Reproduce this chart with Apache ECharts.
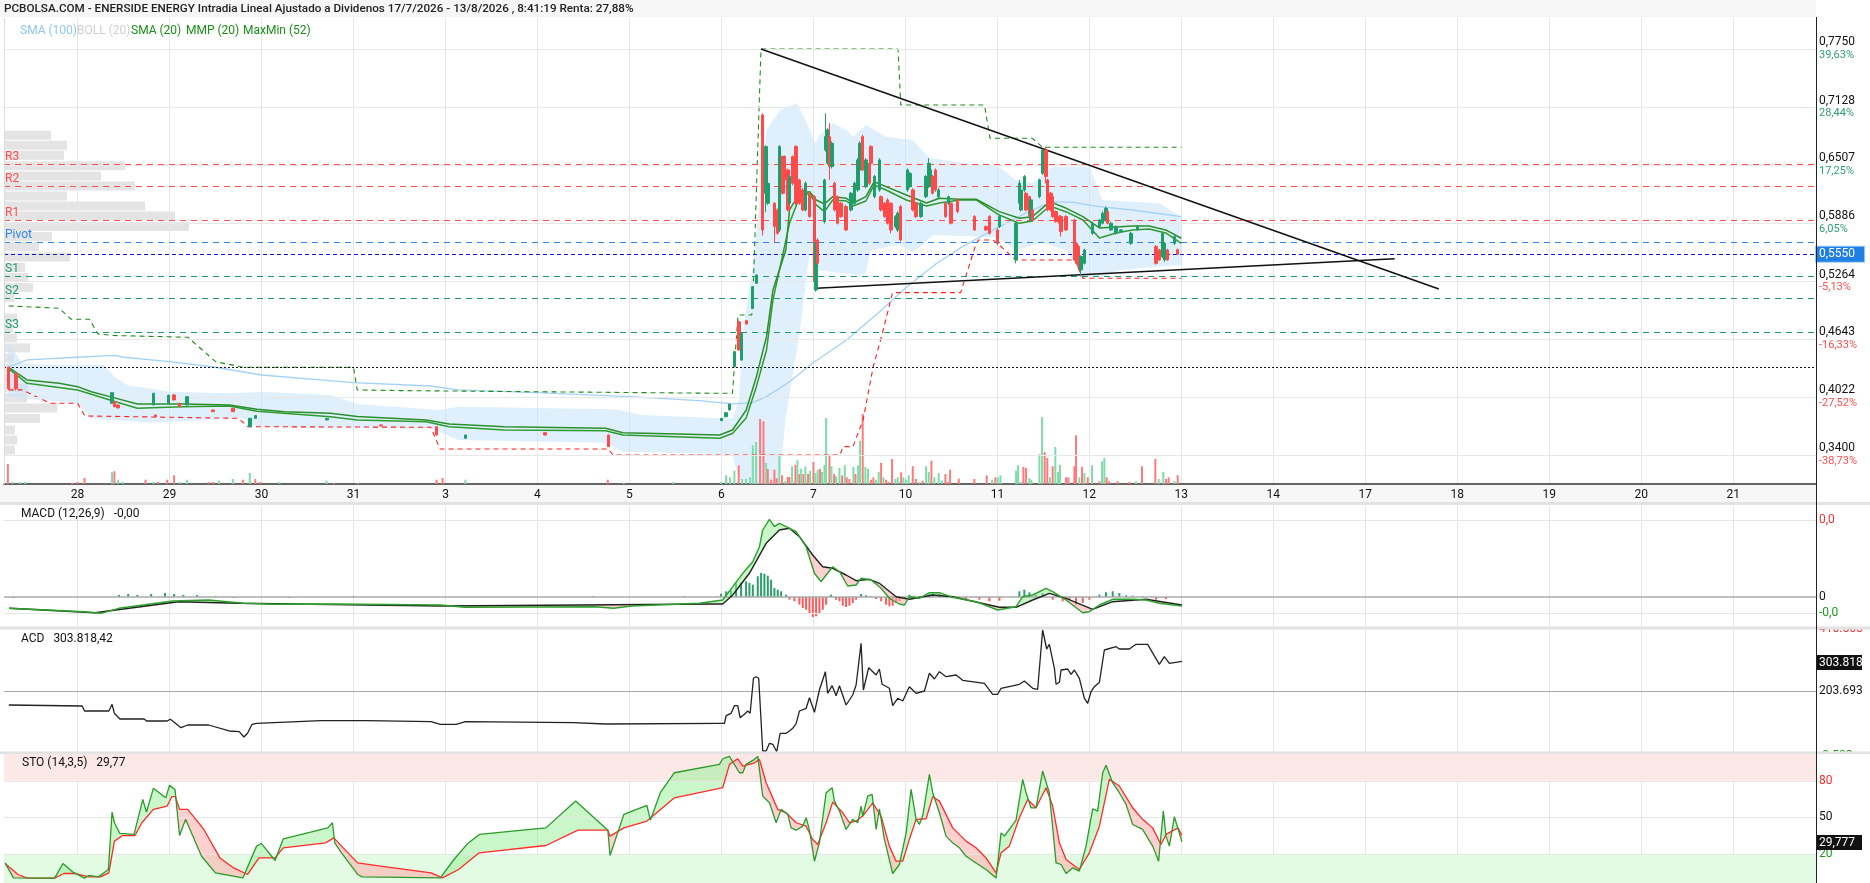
<!DOCTYPE html>
<html><head><meta charset="utf-8">
<script src="https://cdn.jsdelivr.net/npm/echarts@6/dist/echarts.min.js"></script>
<style>html,body{margin:0;padding:0;background:#fff}#c{width:1870px;height:883px}</style>
</head><body><div id="c"></div>
<script>
// ---------- DATA ----------
const dayLabels = ['28','29','30','31','3','4','5','6','7','10','11','12','13','14','17','18','19','20','21'];
const priceTicks = [0.7750, 0.7128, 0.6507, 0.5886, 0.5264, 0.4643, 0.4022, 0.3400];
const priceTickText = ['0,7750','0,7128','0,6507','0,5886','0,5264','0,4643','0,4022','0,3400'];
const priceTickPct = ['39,63%','28,44%','17,25%','6,05%','-5,13%','-16,33%','-27,52%','-38,73%'];
const pivotNames = ['R3','R2','R1','Pivot','S1','S2','S3'];
const pivotValues = [0.6515, 0.6279, 0.5915, 0.5679, 0.5318, 0.5079, 0.4715];
const lastPrice = 0.5550, lastPriceText = '0,5550';
const prevClose = 0.4340;
// candles: [dayPos, open, close, low, high]
const candles = [
[-0.75,0.4340,0.4110,0.4097,0.4345],[-0.67,0.4275,0.4110,0.4090,0.4280],
[0.375,0.3954,0.4068,0.3950,0.4075],[0.40,0.3972,0.3918,0.3910,0.3980],[0.44,0.3936,0.3904,0.3900,0.3940],
[0.824,0.3936,0.4061,0.3930,0.4065],[0.849,0.3829,0.3810,0.3805,0.3832],[0.989,0.3954,0.4040,0.3950,0.4045],
[1.049,0.4043,0.3990,0.3985,0.4050],[1.109,0.3954,0.3918,0.3915,0.3958],[1.188,0.3936,0.4025,0.3930,0.4030],
[1.473,0.3882,0.3864,0.3860,0.3885],[1.687,0.3900,0.3864,0.3860,0.3905],[1.872,0.3703,0.3793,0.3700,0.3797],
[1.932,0.3793,0.3822,0.3790,0.3825],[2.71,0.3775,0.3793,0.3772,0.3796],[3.30,0.3722,0.3711,0.3708,0.3725],
[3.90,0.3703,0.3614,0.3610,0.3706],[4.22,0.3579,0.3614,0.3575,0.3617],[5.08,0.3639,0.3614,0.3610,0.3642],
[5.77,0.3614,0.3489,0.3485,0.3617],
[7.00,0.3768,0.3792,0.3765,0.3795],[7.05,0.3810,0.3853,0.3805,0.3860],[7.09,0.3882,0.3946,0.3878,0.3950],
[7.14,0.4346,0.4507,0.4340,0.4515],[7.19,0.4828,0.4525,0.4520,0.4840],[7.22,0.4417,0.4703,0.4410,0.4710],
[7.27,0.4839,0.4803,0.4800,0.4843],[7.34,0.4971,0.5203,0.4965,0.5210],[7.38,0.5239,0.5328,0.5235,0.5335],
[7.449,0.7043,0.5811,0.5750,0.7061],[7.485,0.6204,0.6704,0.6000,0.6720],[7.504,0.6097,0.6311,0.6080,0.6330],
[7.576,0.6097,0.5847,0.5668,0.6110],[7.612,0.6025,0.5775,0.5760,0.6040],[7.630,0.5811,0.6704,0.5790,0.6720],
[7.667,0.6597,0.6204,0.6190,0.6610],[7.685,0.6597,0.6347,0.6330,0.6610],[7.721,0.6454,0.6025,0.6010,0.6470],
[7.739,0.6097,0.6383,0.6080,0.6400],[7.775,0.6597,0.6311,0.6290,0.6610],[7.812,0.6704,0.6097,0.6080,0.6720],
[7.848,0.6347,0.6097,0.6080,0.6360],[7.884,0.6240,0.6025,0.6010,0.6260],[7.913,0.6025,0.6311,0.6010,0.6330],
[7.957,0.6204,0.5954,0.5940,0.6220],[8.011,0.6168,0.5258,0.5240,0.6180],[8.029,0.5168,0.5668,0.5150,0.5680],
[8.047,0.5704,0.5454,0.5440,0.5720],[8.120,0.5900,0.6347,0.5880,0.6360],[8.138,0.6668,0.6811,0.6650,0.7061],
[8.156,0.6525,0.6883,0.6510,0.6900],[8.174,0.6811,0.6490,0.6347,0.6954],[8.203,0.6490,0.6740,0.6470,0.6760],
[8.228,0.6311,0.6025,0.6010,0.6330],[8.264,0.6168,0.5883,0.5870,0.6180],[8.301,0.6097,0.5954,0.5940,0.6110],
[8.355,0.6061,0.5811,0.5800,0.6080],[8.410,0.6025,0.6204,0.6010,0.6220],[8.446,0.6097,0.6311,0.6080,0.6330],
[8.482,0.6240,0.6561,0.6220,0.6580],[8.507,0.6454,0.6740,0.6440,0.6760],[8.536,0.6811,0.6454,0.6440,0.6830],
[8.572,0.6275,0.6561,0.6260,0.6580],[8.609,0.6525,0.6311,0.6290,0.6540],[8.627,0.6704,0.6525,0.6510,0.6720],
[8.663,0.6168,0.6383,0.6150,0.6400],[8.717,0.6240,0.6561,0.6220,0.6580],[8.735,0.6168,0.6025,0.6010,0.6180],
[8.772,0.6097,0.5954,0.5940,0.6110],[8.808,0.6133,0.5883,0.5870,0.6150],[8.844,0.6097,0.5811,0.5775,0.6110],
[8.899,0.5847,0.5954,0.5830,0.5970],[8.917,0.5811,0.5990,0.5790,0.6010],[8.946,0.6061,0.5704,0.5690,0.6080],
[9.025,0.6240,0.6454,0.6220,0.6470],[9.051,0.6275,0.6418,0.6260,0.6430],[9.080,0.6240,0.6025,0.6010,0.6260],
[9.116,0.6097,0.5954,0.5940,0.6110],[9.170,0.5954,0.6097,0.5940,0.6110],[9.225,0.6168,0.6383,0.6150,0.6400],
[9.254,0.6275,0.6525,0.6260,0.6580],[9.272,0.6311,0.6454,0.6290,0.6470],[9.297,0.6383,0.6204,0.6190,0.6400],
[9.326,0.6454,0.6240,0.6220,0.6470],[9.362,0.6168,0.6240,0.6150,0.6260],[9.435,0.6097,0.5954,0.5940,0.6110],
[9.471,0.6097,0.6168,0.6080,0.6180],[9.496,0.6097,0.5883,0.5870,0.6110],[9.569,0.6133,0.6008,0.5990,0.6150],
[9.750,0.5954,0.5811,0.5800,0.5970],[9.877,0.5847,0.5811,0.5800,0.5860],[9.913,0.5954,0.5775,0.5760,0.5970],
[10.004,0.5811,0.5668,0.5650,0.5830],[10.022,0.5847,0.5954,0.5830,0.5970],[10.203,0.5490,0.5883,0.5454,0.5900],
[10.239,0.6097,0.6311,0.6080,0.6347],[10.257,0.6025,0.6240,0.6010,0.6260],[10.293,0.6240,0.6383,0.6220,0.6400],
[10.312,0.6204,0.6025,0.6010,0.6220],[10.348,0.6168,0.5954,0.5940,0.6180],[10.366,0.5918,0.6133,0.5900,0.6150],
[10.384,0.6025,0.5918,0.5900,0.6040],[10.457,0.6168,0.6347,0.6150,0.6360],[10.493,0.6418,0.6668,0.6400,0.6680],
[10.529,0.6668,0.6383,0.6311,0.6704],[10.547,0.6347,0.6025,0.6010,0.6360],[10.583,0.6204,0.6025,0.6010,0.6220],
[10.601,0.6168,0.5954,0.5940,0.6180],[10.638,0.6008,0.5900,0.5890,0.6020],[10.674,0.5954,0.5883,0.5870,0.5970],
[10.692,0.5954,0.5793,0.5740,0.5970],[10.746,0.5954,0.5811,0.5800,0.5970],[10.837,0.5918,0.5490,0.5480,0.5930],
[10.862,0.5668,0.5454,0.5440,0.5680],[10.884,0.5633,0.5418,0.5400,0.5650],[10.910,0.5383,0.5526,0.5311,0.5540],
[10.946,0.5454,0.5597,0.5440,0.5610],[11.036,0.5775,0.5883,0.5760,0.5900],[11.109,0.5847,0.5918,0.5830,0.5930],
[11.145,0.5883,0.5990,0.5870,0.6010],[11.181,0.5918,0.6043,0.5900,0.6060],[11.199,0.6008,0.5883,0.5870,0.6020],
[11.236,0.5811,0.5883,0.5800,0.5900],[11.290,0.5775,0.5847,0.5760,0.5860],[11.344,0.5793,0.5811,0.5780,0.5820],
[11.453,0.5668,0.5775,0.5650,0.5790],[11.525,0.5811,0.5847,0.5800,0.5860],[11.725,0.5633,0.5454,0.5440,0.5650],
[11.761,0.5597,0.5490,0.5480,0.5610],[11.797,0.5526,0.5775,0.5510,0.5790],[11.815,0.5490,0.5668,0.5470,0.5680],
[11.851,0.5597,0.5490,0.5480,0.5610],[11.924,0.5668,0.5740,0.5650,0.5750],[11.96,0.5600,0.5550,0.5540,0.5610]
];
// volume: [dayPos, volume, up(1)/down(0)]
const volumes = [
[-0.758,20,0],[-0.708,2,1],[-0.623,2,1],[-0.573,2,1],[-0.059,1,0],[0.0,2,0],[0.075,6,0],[0.375,11.7,1],[0.40,12.7,0],
[0.44,4.3,1],[0.489,2,1],[0.739,4.3,0],[0.824,2,1],[0.874,2,0],[0.974,4.3,0],[1.049,8.7,0],[1.109,2,1],[1.188,4.3,1],
[1.423,2,0],[1.473,2,0],[1.538,3.3,1],[1.687,5,1],[1.797,4.3,0],[1.872,11,1],[1.932,5,0],[1.987,2,0],[2.196,2,1],
[2.706,3.3,1],[2.786,1,0],[3.045,1,1],[3.903,4.3,0],[3.968,6,0],[4.217,4.3,1],[5.765,4.3,0],[5.939,1,1],[6.478,2,1],
[6.996,2,1],[7.051,8.7,1],[7.094,6.7,1],[7.141,13.3,1],[7.188,18.7,0],[7.225,5,1],[7.268,5,1],[7.312,6.7,1],[7.341,38.7,1],
[7.377,42,1],[7.420,65,0],[7.457,62.7,0],[7.486,21,1],[7.504,15,0],[7.540,4.3,0],[7.576,14.3,0],[7.601,5.7,0],[7.630,27.7,1],
[7.659,8.7,0],[7.696,3.3,1],[7.721,7,0],[7.739,7,0],[7.768,17.7,1],[7.804,19.3,0],[7.826,23.7,1],[7.848,10,0],[7.866,15.3,1],
[7.891,10,0],[7.913,17.7,1],[7.942,10,0],[7.964,13.3,1],[8.000,22,0],[8.022,11,1],[8.047,14.3,1],[8.072,15,0],[8.094,12,1],
[8.120,19.3,1],[8.138,66,1],[8.174,29.3,0],[8.196,17.7,1],[8.225,10,0],[8.246,7.7,1],[8.283,16,1],[8.312,8.7,0],[8.341,18.7,1],
[8.362,6.7,0],[8.391,5,0],[8.435,17,1],[8.457,10,0],[8.486,18.7,1],[8.507,43.3,1],[8.536,70,0],[8.565,17,1],[8.594,15.3,1],
[8.627,4.3,0],[8.652,6.7,0],[8.681,4.3,1],[8.710,12,1],[8.736,21,0],[8.761,6.7,1],[8.790,4.3,0],[8.819,2,0],[8.855,25,0],
[8.891,5,1],[8.917,6.7,1],[8.953,11.7,0],[8.978,6.7,1],[9.007,4.3,1],[9.036,8.7,1],[9.080,17.7,0],[9.116,5,0],[9.152,2,1],
[9.188,3.3,0],[9.225,17.7,1],[9.254,12,1],[9.283,23.3,0],[9.315,6.7,1],[9.362,11,1],[9.399,3.3,1],[9.435,10,0],[9.460,2,0],
[9.486,14.3,0],[9.580,5.3,0],[9.750,5,0],[9.884,8.7,0],[9.942,4.3,1],[9.978,6.7,0],[10.004,6.7,1],[10.033,8.7,1],
[10.203,13.3,1],[10.225,18.7,1],[10.257,2,1],[10.283,17,0],[10.312,16,0],[10.348,6,1],[10.370,4.3,1],[10.457,30,1],
[10.486,67,1],[10.514,32,0],[10.543,26,0],[10.572,6.7,1],[10.601,17.7,0],[10.630,37,1],[10.659,12,1],[10.681,19.3,1],
[10.746,6.7,0],[10.772,6.7,0],[10.837,17.7,0],[10.855,48.7,0],[10.891,6.7,1],[10.920,17,0],[10.946,11,1],[10.982,6.7,0],
[11.029,18.7,1],[11.109,2.7,0],[11.138,22.7,1],[11.163,26,1],[11.188,6.7,0],[11.217,2.7,0],[11.308,2.7,0],[11.435,2,0],
[11.507,2.7,1],[11.572,17.7,0],[11.717,25,0],[11.754,5,1],[11.804,12,1],[11.833,5,0],[11.862,6.7,0],[11.924,3.3,1],[11.960,8.7,0]
];
// volume profile: [price, volume]
const profile = [
[0.6825,47],[0.6718,63],[0.6611,60],[0.6500,121],[0.6389,97],[0.6282,131],[0.6175,63],[0.6068,141],[0.5961,171],
[0.5848,185],[0.5741,48],[0.5634,35],[0.5521,66],[0.5409,21],[0.5302,24],[0.5195,29],[0.5088,10],[0.4868,13],
[0.4761,9],[0.4654,13],[0.4547,26],[0.4439,10],[0.4332,8],[0.4225,10],[0.4118,24],[0.4011,23],[0.3904,53],
[0.3791,36],[0.3668,11],[0.3561,13],[0.3454,11]
];
const sma100 = [[-0.75,0.4340],[-0.55,0.4418],[0,0.4447],[0.4,0.4468],[0.5,0.4447],[1.0,0.4400],[1.5,0.4340],[2.0,0.4257],
[3.0,0.4175],[3.84,0.4139],[4.14,0.4097],[4.99,0.4068],[6.0,0.4025],[6.76,0.3982],[7.12,0.3947],[7.34,0.3960],[7.49,0.4025],
[7.74,0.4185],[7.99,0.4382],[8.36,0.4632],[8.72,0.4935],[9.01,0.5197],[9.33,0.5446],[9.62,0.5632],[10.02,0.5846],
[10.38,0.6025],[10.6,0.6114],[10.82,0.6107],[11.11,0.6060],[11.47,0.6025],[12.0,0.5953]];
const bollUpper = [[-0.75,0.4597],[-0.6,0.4382],[-0.3,0.4364],[0.29,0.4364],[0.40,0.4239],[0.54,0.4150],[1.0,0.4078],
[1.65,0.4061],[2.0,0.4078],[2.75,0.4043],[3.04,0.3946],[3.94,0.3882],[4.14,0.3918],[5.84,0.3890],[6.14,0.3829],
[6.98,0.3793],[7.12,0.3793],[7.19,0.3989],[7.23,0.4707],[7.35,0.5489],[7.49,0.6882],[7.64,0.7096],[7.82,0.7168],
[7.93,0.6957],[8.02,0.6743],[8.07,0.6829],[8.21,0.6957],[8.36,0.6882],[8.43,0.6810],[8.57,0.6936],[8.79,0.6810],
[9.08,0.6775],[9.26,0.6582],[9.66,0.6525],[10.02,0.6489],[10.20,0.6346],[10.38,0.6314],[10.60,0.6489],[11.0,0.6489],
[11.14,0.6132],[11.76,0.6097],[12.0,0.5953]];
const bollLower = [[-0.75,0.4025],[-0.67,0.4007],[0.0,0.3954],[0.15,0.3793],[0.40,0.3775],[0.80,0.3746],[1.80,0.3793],
[1.95,0.3703],[2.64,0.3686],[3.84,0.3686],[4.14,0.3561],[5.74,0.3532],[5.93,0.3435],[6.98,0.3411],[7.12,0.3400],
[7.19,0.3132],[7.35,0.3089],[7.63,0.3089],[7.70,0.3811],[7.85,0.4707],[7.96,0.5596],[8.02,0.5382],[8.50,0.5329],
[8.57,0.5350],[8.62,0.5596],[8.93,0.5650],[9.08,0.5578],[9.21,0.5668],[9.30,0.5757],[9.99,0.5736],[10.2,0.5596],
[10.49,0.5671],[10.75,0.5596],[10.93,0.5310],[11.14,0.5310],[11.33,0.5382],[12.0,0.5436]];
const sma20 = [[-0.75,0.4340],[-0.55,0.4204],[-0.2,0.4168],[0.0,0.4132],[0.15,0.4078],[0.35,0.4025],[0.65,0.3946],
[1.15,0.3946],[1.65,0.3936],[1.95,0.3890],[2.25,0.3864],[2.75,0.3847],[3.04,0.3811],[3.79,0.3775],[4.04,0.3732],
[4.64,0.3703],[5.74,0.3686],[5.93,0.3639],[6.98,0.3614],[7.12,0.3668],[7.27,0.3882],[7.38,0.4239],[7.49,0.4668],
[7.56,0.5168],[7.70,0.5596],[7.74,0.6025],[7.85,0.6204],[7.96,0.6221],[8.03,0.6132],[8.12,0.6089],[8.21,0.6168],
[8.36,0.6150],[8.43,0.6097],[8.57,0.6168],[8.66,0.6328],[8.79,0.6275],[9.01,0.6186],[9.23,0.6100],[9.37,0.6150],
[9.59,0.6140],[9.77,0.6140],[10.02,0.6007],[10.24,0.5936],[10.38,0.5953],[10.57,0.6114],[10.75,0.6043],[10.93,0.5953],
[11.11,0.5832],[11.29,0.5843],[11.47,0.5854],[11.65,0.5854],[11.83,0.5811],[12.0,0.5722]];
const mmp20 = [[-0.75,0.4325],[-0.55,0.4168],[0.0,0.4096],[0.35,0.3989],[0.65,0.3900],[1.15,0.3918],[1.65,0.3925],
[1.95,0.3868],[2.75,0.3810],[3.04,0.3775],[3.79,0.3757],[4.04,0.3703],[4.64,0.3668],[5.74,0.3660],[5.93,0.3614],
[6.98,0.3579],[7.12,0.3630],[7.27,0.3800],[7.38,0.4132],[7.49,0.4525],[7.56,0.5061],[7.74,0.5882],[7.85,0.6168],
[7.96,0.6204],[8.03,0.6079],[8.12,0.6007],[8.21,0.6132],[8.36,0.6121],[8.43,0.6068],[8.57,0.6121],[8.66,0.6293],
[8.79,0.6239],[9.01,0.6132],[9.23,0.6068],[9.37,0.6100],[9.59,0.6132],[9.77,0.6132],[10.02,0.5971],[10.24,0.5882],
[10.38,0.5907],[10.57,0.6068],[10.75,0.6004],[10.93,0.5918],[11.11,0.5725],[11.29,0.5779],[11.47,0.5811],[11.65,0.5822],
[11.83,0.5779],[12.0,0.5668]];
const maxMinUpper = [[-0.75,0.4997],[-0.20,0.4972],[-0.07,0.4854],[0.13,0.4854],[0.22,0.4697],[0.40,0.4680],[1.20,0.4661],
[1.50,0.4400],[1.80,0.4340],[3.00,0.4340],[3.04,0.4097],[3.5,0.4090],[6.98,0.4061],[7.12,0.4061],[7.18,0.4900],
[7.33,0.4900],[7.35,0.5310],[7.43,0.7750],[8.92,0.7750],[8.95,0.7150],[9.86,0.7150],[9.92,0.6793],[10.38,0.6793],
[10.49,0.6697],[12.0,0.6697]];
const maxMinLower = [[-0.75,0.4097],[-0.60,0.4097],[-0.30,0.3954],[0.0,0.3954],[0.08,0.3818],[1.75,0.3793],[1.85,0.3703],
[3.84,0.3697],[3.94,0.3464],[5.77,0.3464],[5.82,0.3400],[8.29,0.3400],[8.32,0.3489],[8.43,0.3489],[8.54,0.3775],
[8.65,0.4346],[8.75,0.4704],[8.86,0.5139],[9.60,0.5139],[9.77,0.5668],[9.80,0.5704],[9.95,0.5704],[10.02,0.5650],
[10.20,0.5489],[10.86,0.5489],[10.88,0.5400],[10.93,0.5293],[12.0,0.5293]];
const trendUpper = [[7.43,0.7750],[14.8,0.5179]];
const trendLower = [[8.03,0.5186],[14.32,0.5502]];
// MACD
const macdLine = [[-0.745,-0.00113],[-0.329,-0.0013],[0.060,-0.00147],[0.254,-0.00163],[0.449,-0.00113],[1.033,-0.0004],
[1.421,-0.0003],[1.810,-0.00063],[2.134,-0.00073],[2.783,-0.0007],[3.946,-0.0008],[4.207,-0.00103],[5.630,-0.00097],
[5.826,-0.00113],[6.022,-0.0009],[6.761,-0.00063],[7.014,-0.0003],[7.123,0.00103],[7.232,0.00237],[7.340,0.00353],
[7.413,0.00503],[7.449,0.0067],[7.522,0.00777],[7.576,0.00703],[7.630,0.00737],[7.703,0.00703],[7.812,0.00653],
[7.920,0.00503],[8.011,0.00237],[8.084,0.00153],[8.138,0.0022],[8.210,0.00303],[8.283,0.00253],[8.373,0.0011],
[8.464,0.0012],[8.518,0.00187],[8.627,0.0017],[8.736,0.00087],[8.826,-0.00013],[8.935,-0.0007],[8.989,-0.0008],
[9.043,0.00003],[9.152,-0.00013],[9.261,0.00043],[9.370,0.00043],[9.514,-0.00003],[9.768,-0.00047],[10.003,-0.0013],
[10.203,-0.00097],[10.275,0.00003],[10.384,0.0002],[10.529,0.00087],[10.601,0.00053],[10.747,-0.0003],[10.927,-0.00157],
[11.0,-0.00147],[11.109,-0.0008],[11.253,-0.00023],[11.471,-0.00023],[11.616,-0.0003],[11.761,-0.00063],[12.007,-0.0009]];
const macdSignal = [[-0.745,-0.00113],[0.189,-0.00157],[1.098,-0.00047],[1.745,-0.00063],[3.946,-0.0009],[6.930,-0.0007],
[7.014,-0.0007],[7.123,0.0002],[7.304,0.00237],[7.486,0.00537],[7.630,0.0067],[7.739,0.00687],[7.848,0.00603],
[7.992,0.0042],[8.101,0.00303],[8.210,0.00287],[8.355,0.0022],[8.464,0.00163],[8.609,0.00177],[8.717,0.00137],
[8.899,0.00003],[9.043,-0.00023],[9.297,0.0002],[9.514,0.00003],[10.022,-0.00103],[10.203,-0.00103],[10.384,-0.0003],
[10.565,0.00037],[10.747,-0.00013],[11.036,-0.00123],[11.253,-0.00047],[11.616,-0.00023],[12.007,-0.0008]];
const macdHist = [[-0.7,-0.0001],[0.45,0.0002],[0.55,0.0003],[0.65,0.0002],[0.8,0.0003],[0.95,0.0004],[1.05,0.0003],
[1.15,0.0002],[1.3,0.0002],[1.5,0.0001],[1.7,-0.0001],[2.3,-0.0001],[3.0,0.0001],[5.6,0.0001],[6.6,0.0001],
[6.996,0.00033],[7.051,0.00057],[7.105,0.00067],[7.159,0.0014],[7.214,0.00147],[7.268,0.00157],[7.304,0.0014],
[7.341,0.00123],[7.395,0.00207],[7.431,0.0024],[7.467,0.00233],[7.504,0.00213],[7.540,0.00173],[7.576,0.0009],
[7.612,0.00073],[7.649,0.00057],[7.703,0.00023],[7.739,-0.00027],[7.793,-0.00043],[7.848,-0.00077],[7.884,-0.0011],
[7.920,-0.00127],[7.957,-0.0016],[7.993,-0.002],[8.029,-0.00193],[8.065,-0.0016],[8.102,-0.00127],[8.138,-0.00077],
[8.192,0.00023],[8.246,-0.00027],[8.283,-0.00043],[8.319,-0.00087],[8.355,-0.001],[8.391,-0.00087],[8.428,-0.0006],
[8.464,-0.00027],[8.518,0.0003],[8.572,0.00017],[8.627,0.00007],[8.681,-0.0002],[8.736,-0.00043],[8.790,-0.00077],
[8.826,-0.00093],[8.862,-0.00087],[8.899,-0.0006],[8.935,-0.00043],[8.989,-0.0002],[9.043,0.00023],[9.098,0.00013],
[9.261,0.0003],[9.297,0.0004],[9.370,0.00033],[9.442,0.00017],[9.514,-0.00013],[9.659,-0.0002],[9.804,-0.00027],
[9.913,-0.00043],[10.022,-0.00037],[10.239,0.00057],[10.293,0.00073],[10.348,0.00047],[10.420,0.00023],[10.493,0.0004],
[10.601,-0.00027],[10.710,-0.00043],[10.783,-0.00027],[10.855,-0.00077],[10.928,-0.0006],[11.000,-0.00027],
[11.109,0.00023],[11.181,0.00047],[11.254,0.00057],[11.326,0.0004],[11.399,0.00017],[11.471,0.00013],[11.580,0.00007],
[11.725,-0.00027],[11.833,-0.0002],[12.007,-0.00007]];
// ACD
const acd = [[-0.748,156217],[0.05,152826],[0.076,135869],[0.340,135869],[0.375,158588],[0.400,128069],[0.460,108738],
[0.724,108738],[0.750,101956],[0.974,101956],[1.009,107722],[1.124,79232],[1.198,88389],[1.424,88389],[1.648,68044],
[1.758,65670],[1.808,47696],[1.848,60244],[1.897,90763],[1.946,94154],[2.646,102972],[3.145,102972],[3.843,99580],
[3.943,90763],[4.117,90763],[4.217,99580],[5.391,96189],[5.739,91780],[6.978,94154],[7.033,94154],[7.051,119931],
[7.105,128069],[7.141,153843],[7.177,153843],[7.203,113148],[7.250,124675],[7.286,135869],[7.312,128069],[7.348,246765],
[7.377,252191],[7.405,246765],[7.449,200],[7.486,200],[7.522,26331],[7.558,22940],[7.601,-2156],[7.638,60244],
[7.703,60244],[7.739,68044],[7.775,77201],[7.812,92798],[7.848,135869],[7.921,145026],[7.957,180973],[8.011,131460],
[8.065,207087],[8.130,269149],[8.155,195898],[8.203,221672],[8.247,187758],[8.283,221672],[8.355,156217],[8.427,190131],
[8.464,224044],[8.518,365461],[8.543,207087],[8.601,282713],[8.682,257957],[8.717,278306],[8.747,226418],[8.826,212853],
[8.862,153843],[8.916,178938],[8.971,169782],[9.043,218281],[9.116,195898],[9.207,203698],[9.261,263723],[9.315,244393],
[9.370,269149],[9.442,252191],[9.551,257957],[9.623,240000],[9.859,229811],[9.949,192507],[10.003,192507],[10.040,212853],
[10.239,226418],[10.293,237609],[10.384,212853],[10.438,209479],[10.492,410565],[10.536,346128],[10.565,362067],
[10.620,280678],[10.638,226418],[10.674,233202],[10.692,274913],[10.764,278306],[10.801,260332],[10.837,274913],
[10.891,246765],[10.946,178938],[10.982,161981],[11.018,201324],[11.054,218281],[11.109,233202],[11.163,342739],
[11.290,353930],[11.326,346128],[11.435,346128],[11.508,362067],[11.634,362067],[11.761,294242],[11.815,320016],
[11.870,297634],[12.007,303818]];
// Stochastic
const stoK = [[-0.788,12.5],[-0.698,0.2],[-0.25,0],[-0.159,12],[-0.049,4.9],[0.076,0],[0.125,2.2],[0.225,1],[0.335,7.1],
[0.375,54.3],[0.400,45.5],[0.460,36.7],[0.614,35.9],[0.709,64.7],[0.749,54.3],[0.824,73.8],[0.959,66],[0.999,76.2],
[1.059,72.9],[1.109,35],[1.174,48.3],[1.348,18],[1.498,4.3],[1.797,0.2],[1.946,26.3],[1.997,28.5],[2.147,14.5],
[2.236,32.3],[2.721,41.3],[2.771,45.5],[2.796,29],[2.870,20.8],[3.045,3],[3.095,1],[3.943,0.2],[4.092,15.3],[4.242,28.5],
[4.367,35.9],[5.091,41.3],[5.415,63.3],[5.765,39.4],[5.789,18.6],[5.939,52.4],[6.189,59.8],[6.228,47.7],[6.339,70.7],
[6.489,86.6],[6.978,93.5],[7.014,98.1],[7.087,100],[7.196,86.6],[7.232,86.6],[7.268,93.5],[7.359,97.6],[7.395,100],
[7.449,67.4],[7.522,61.9],[7.595,45.5],[7.649,56.5],[7.721,52.4],[7.758,41.3],[7.812,39.4],[7.884,42.7],[7.921,49.6],
[7.957,39.4],[8.011,13.9],[8.065,29],[8.138,70.2],[8.203,74.3],[8.228,63.3],[8.283,55.1],[8.355,40],[8.427,48.3],
[8.482,45.5],[8.518,59.2],[8.536,51],[8.590,67.4],[8.638,68.8],[8.682,40],[8.717,57],[8.772,31.8],[8.862,3.8],[8.935,11.2],
[9.008,37.2],[9.062,72.9],[9.116,48.3],[9.152,44.1],[9.188,51],[9.261,85.3],[9.297,70.2],[9.370,53.7],[9.442,34.5],
[9.514,29],[9.587,24.9],[9.660,18],[9.768,12.5],[9.877,7.1],[9.986,0.2],[10.040,37.2],[10.076,34.5],[10.203,47.7],
[10.275,81.2],[10.312,70.2],[10.366,57.8],[10.420,57.8],[10.492,88],[10.565,70.2],[10.638,12.5],[10.692,11.2],[10.747,3.8],
[10.818,8.4],[10.891,5.7],[10.964,26.3],[11.036,57],[11.090,55.1],[11.145,86.6],[11.181,92.7],[11.253,78.4],[11.326,70.2],
[11.399,60.6],[11.471,44.1],[11.579,40],[11.688,26.3],[11.753,13.9],[11.804,55.1],[11.833,34.5],[11.870,26.3],
[11.924,50.4],[12.007,29.77]];
const stoD = [[-0.788,12],[-0.648,3],[-0.549,0],[-0.25,0],[-0.149,3.8],[-0.024,3.8],[0.125,1.1],[0.25,1.1],[0.340,4.3],
[0.400,30.4],[0.489,35],[0.624,35],[0.699,45.5],[0.824,56.5],[0.974,59.2],[1.024,66.9],[1.063,66.9],[1.109,56.5],
[1.198,56.5],[1.373,40],[1.548,16.6],[1.698,8.4],[1.848,3],[1.972,16.6],[2.147,16.6],[2.236,24.9],[2.696,29],[2.786,33.1],
[2.870,26.3],[3.045,12.5],[3.293,9.8],[3.843,4.3],[3.967,0.2],[4.142,7.1],[4.367,20.8],[5.091,26.8],[5.440,39.4],
[5.765,39.4],[5.789,34.5],[5.939,41.3],[6.189,46.9],[6.489,66],[6.978,73.8],[7.014,74.3],[7.087,93.5],[7.177,98.1],
[7.232,92.1],[7.359,94.8],[7.413,97.6],[7.486,78.4],[7.612,56.5],[7.703,53.7],[7.812,45.5],[7.921,42.7],[7.992,31.8],
[8.047,27.7],[8.138,45.5],[8.210,62.5],[8.319,53.7],[8.391,45.5],[8.464,46.9],[8.536,51],[8.645,61.9],[8.736,51],
[8.826,26.3],[8.899,13.9],[8.971,13.9],[9.043,31.8],[9.116,48.3],[9.225,48.8],[9.297,66.9],[9.370,63.3],[9.514,41.3],
[9.660,30.4],[9.768,24.9],[9.877,16.6],[9.986,4.3],[10.040,20.8],[10.130,26.3],[10.239,49.6],[10.329,64.7],[10.420,57.8],
[10.529,74.3],[10.601,59.2],[10.674,29],[10.747,15.3],[10.891,7.1],[11.0,20.8],[11.109,42.7],[11.217,81.2],[11.326,75.7],
[11.471,57.8],[11.579,48.3],[11.688,41.3],[11.779,27.7],[11.833,35.9],[11.964,41.3],[12.007,35]];

// ---------- LAYOUT / STYLE ----------
const X_MIN = -0.8, X_MAX = 18.9, X_STEP = 0.1;
const FONT = 'Roboto, "Liberation Sans", Arial, sans-serif';
const GREEN = '#1f9d6a', RED = '#ff4a4a';
const categories = [];
for (let i = 0; i <= Math.round((X_MAX - X_MIN) / X_STEP); i++) {
  const d = Math.round((X_MIN + i * X_STEP) * 10) / 10;
  categories.push(Number.isInteger(d) && d >= 0 && d < dayLabels.length ? dayLabels[d] : '');
}
const isDay = (idx, v) => v !== '';
const PL = 4, PW = 1812;
function catAxis(grid, showLabels) {
  return { type: 'category', gridIndex: grid, data: categories, boundaryGap: false,
    axisTick: { show: false },
    axisLine: { show: showLabels, lineStyle: { color: '#333', width: 1.5 } },
    axisLabel: { show: showLabels, interval: isDay, color: '#111', fontSize: 12, margin: 5, fontFamily: FONT },
    splitLine: { show: true, interval: isDay, lineStyle: { color: '#e6e6e6', width: 1 } } };
}
function valX(grid) { return { type: 'value', gridIndex: grid, min: X_MIN, max: X_MAX, show: false }; }
function hLine(v, color, label, labelColor, width, type) {
  return { yAxis: v, lineStyle: { color: color, width: width || 1, type: type || 'solid' },
    label: label ? { show: true, position: 'end', distance: 3, formatter: label, color: labelColor, fontSize: 12, fontFamily: FONT } : { show: false } };
}
function fillBetween(aData, bData, upColor, downColor) {
  return function (params, api) {
    if (params.dataIndex !== 0) return;
    const ap = aData.map(p => api.coord(p)), bp = bData.map(p => api.coord(p));
    const lo = Math.max(ap[0][0], bp[0][0]), hi = Math.min(ap[ap.length - 1][0], bp[bp.length - 1][0]);
    const xs = Array.from(new Set(ap.map(p => p[0]).concat(bp.map(p => p[0])))).filter(x => x >= lo && x <= hi).sort((m, n) => m - n);
    const at = (pts, x) => { for (let i = 1; i < pts.length; i++) { if (x <= pts[i][0]) { const [x0, y0] = pts[i - 1], [x1, y1] = pts[i]; return x1 === x0 ? y1 : y0 + (y1 - y0) * (x - x0) / (x1 - x0); } } return pts[pts.length - 1][1]; };
    const runs = []; let cur = null;
    const add = (s, x0, a0, b0, x1, a1, b1) => {
      if (cur && cur.s === s) { cur.a.push([x1, a1]); cur.b.push([x1, b1]); }
      else { cur = { s: s, a: [[x0, a0], [x1, a1]], b: [[x0, b0], [x1, b1]] }; runs.push(cur); }
    };
    for (let i = 0; i < xs.length - 1; i++) {
      const x0 = xs[i], x1 = xs[i + 1];
      const a0 = at(ap, x0), b0 = at(bp, x0), a1 = at(ap, x1), b1 = at(bp, x1);
      const d0 = b0 - a0, d1 = b1 - a1;
      if (d0 * d1 < 0) {
        const t = d0 / (d0 - d1), xc = x0 + t * (x1 - x0), yc = a0 + t * (a1 - a0);
        add(d0 > 0 ? 1 : -1, x0, a0, b0, xc, yc, yc); add(d1 > 0 ? 1 : -1, xc, yc, yc, x1, a1, b1);
      } else add((d0 + d1) >= 0 ? 1 : -1, x0, a0, b0, x1, a1, b1);
    }
    return { type: 'group', children: runs.map(r => ({ type: 'polygon', shape: { points: r.a.concat(r.b.slice().reverse()) }, style: { fill: r.s > 0 ? upColor : downColor } })) };
  };
}
function bandPolygon(upper, lower, fill) {
  return function (params, api) {
    if (params.dataIndex !== 0) return;
    const pts = upper.map(p => api.coord(p)).concat(lower.slice().reverse().map(p => api.coord(p)));
    return { type: 'polygon', shape: { points: pts }, style: { fill: fill } };
  };
}
const lineS = (xi, yi, data, color, width, z, dash) => ({ type: 'line', xAxisIndex: xi, yAxisIndex: yi, data: data, symbol: 'none',
  silent: true, z: z, lineStyle: { color: color, width: width, type: dash || 'solid' } });
const ML = (data, extra) => Object.assign({ silent: true, symbol: ['none', 'none'], animation: false, precision: 8, data: data }, extra || {});
const txt = (x, y, text, fill, font, z) => ({ type: 'text', x: x, y: y, z: z || 100,
  style: { text: text, fill: fill, font: font || '12px Roboto', textVerticalAlign: 'middle', verticalAlign: 'middle' } });

const pivotColor = n => n[0] === 'R' ? '#ff4f4f' : (n[0] === 'S' ? '#1d9b6c' : '#2f86ea');

const option = {
  animation: false,
  backgroundColor: '#fff',
  grid: [
    { left: PL, width: PW, top: 18, height: 466 },
    { left: PL, width: PW, top: 409, height: 75 },
    { left: PL, width: 460, top: 18, height: 466 },
    { left: PL, width: PW, top: 506, height: 120 },
    { left: PL, width: PW, top: 630, height: 122 },
    { left: PL, width: PW, top: 754, height: 129 }
  ],
  xAxis: [catAxis(0, true), valX(0), valX(1), { type: 'value', gridIndex: 2, min: 0, max: 460, show: false },
    catAxis(3, false), valX(3), catAxis(4, false), valX(4), catAxis(5, false), valX(5)],
  yAxis: [
    { type: 'value', gridIndex: 0, min: 0.3089, max: 0.8082, show: false },
    { type: 'value', gridIndex: 1, min: 0, max: 75, show: false },
    { type: 'value', gridIndex: 2, min: 0.3089, max: 0.8082, show: false },
    { type: 'value', gridIndex: 3, min: -0.0029, max: 0.0091, show: false },
    { type: 'value', gridIndex: 4, min: -3179, max: 410565, show: false },
    { type: 'value', gridIndex: 5, min: -4, max: 102, show: false }
  ],
  series: [
    // price grid lines + right labels
    { type: 'line', xAxisIndex: 1, yAxisIndex: 0, data: [], z: 1, silent: true,
      markLine: ML(priceTicks.map((v, i) => ({ yAxis: v, lineStyle: { color: '#e8e8e8', type: 'solid', width: 1 },
          label: { show: true, position: 'end', distance: 3,
            formatter: '{p|' + priceTickText[i] + '}\n{q|' + priceTickPct[i] + '}',
            rich: { p: { color: '#111', fontSize: 12, lineHeight: 13, fontFamily: FONT },
                    q: { color: priceTickPct[i][0] === '-' ? '#ff4d4d' : '#2e9e6e', fontSize: 11, lineHeight: 13, fontFamily: FONT } } } }))) },
    // volume profile
    { type: 'custom', xAxisIndex: 3, yAxisIndex: 2, data: profile, z: 1, silent: true, encode: { x: 1, y: 0 },
      renderItem: (params, api) => {
        const p0 = api.coord([0, api.value(0) + 0.0048]), p1 = api.coord([api.value(1), api.value(0) - 0.0048]);
        return { type: 'rect', shape: { x: p0[0], y: p0[1], width: p1[0] - p0[0], height: p1[1] - p0[1] }, style: { fill: '#e4e4e4' } };
      } },
    // Bollinger band
    { type: 'custom', xAxisIndex: 1, yAxisIndex: 0, data: [[5, 0.5]], z: 2, silent: true, clip: true,
      renderItem: bandPolygon(bollUpper, bollLower, 'rgba(196,228,250,0.55)') },
    // volume
    { type: 'bar', xAxisIndex: 2, yAxisIndex: 1, z: 3, silent: true, barWidth: 2,
      data: volumes.map(v => ({ value: [v[0], v[1]], itemStyle: { color: v[2] ? '#7fdcaa' : '#ff7a7a' } })) },
    lineS(1, 0, sma100, '#a4d2f6', 1.3, 4),
    // pivots, current price, previous close
    { type: 'line', xAxisIndex: 1, yAxisIndex: 0, data: [], z: 4, silent: true,
      markLine: ML(pivotNames.map((n, i) => ({ yAxis: pivotValues[i], lineStyle: { color: pivotColor(n), type: [6, 5], width: 1 },
          label: { show: true, position: 'insideStartTop', distance: [1, 1], formatter: n, color: pivotColor(n), fontSize: 12, fontFamily: FONT } }))
          .concat([
            { yAxis: lastPrice, lineStyle: { color: '#1010e0', type: [4, 3], width: 1 },
              label: { show: true, position: 'end', distance: 0, formatter: lastPriceText, color: '#fff', backgroundColor: '#1f7fe5',
                borderColor: '#9ccaf5', borderWidth: 1, padding: [2, 9, 1, 3], fontSize: 12, fontFamily: FONT } },
            { yAxis: prevClose, lineStyle: { color: '#111', type: [2, 2], width: 1 }, label: { show: false } }
          ])) },
    lineS(1, 0, maxMinUpper, '#1e8c1e', 1.1, 4, [5, 4]),
    lineS(1, 0, maxMinLower, '#ff2020', 1.1, 4, [5, 4]),
    lineS(1, 0, mmp20, '#2e9a2e', 1.5, 5),
    lineS(1, 0, sma20, '#2a8f2a', 1.5, 5),
    { type: 'candlestick', xAxisIndex: 1, yAxisIndex: 0, z: 6, silent: true, barWidth: 3, barMaxWidth: 3,
      data: candles, encode: { x: 0, y: [1, 2, 3, 4] },
      itemStyle: { color: GREEN, color0: RED, borderColor: GREEN, borderColor0: RED, borderWidth: 1 } },
    { type: 'line', xAxisIndex: 1, yAxisIndex: 0, data: [], z: 7, silent: true,
      markLine: ML([[{ coord: trendUpper[0] }, { coord: trendUpper[1] }], [{ coord: trendLower[0] }, { coord: trendLower[1] }]],
        { label: { show: false }, lineStyle: { color: '#111', type: 'solid', width: 1.5 } }) },
    // MACD
    { type: 'line', xAxisIndex: 5, yAxisIndex: 3, data: [], z: 1, silent: true,
      markLine: ML([hLine(0.0077, '#e6e6e6', '0,0', '#ff2a2a'), hLine(0, '#aaaaaa', '0', '#111', 1.5), hLine(-0.0016, '#e6e6e6', '-0,0', '#1a9a1a')]) },
    { type: 'bar', xAxisIndex: 5, yAxisIndex: 3, z: 3, silent: true, barWidth: 2,
      data: macdHist.map(h => ({ value: h, itemStyle: { color: h[1] >= 0 ? '#2e9e6e' : '#ff5a5a' } })) },
    { type: 'custom', xAxisIndex: 5, yAxisIndex: 3, data: [[5, 0]], z: 4, silent: true, clip: true,
      renderItem: fillBetween(macdLine, macdSignal, 'rgba(150,240,150,0.5)', 'rgba(255,170,170,0.55)') },
    lineS(5, 3, macdSignal, '#222', 1.4, 5),
    lineS(5, 3, macdLine, '#2ca02c', 1.4, 5),
    // ACD
    { type: 'line', xAxisIndex: 7, yAxisIndex: 4, data: acd, z: 5, symbol: 'none', silent: true,
      lineStyle: { color: '#222', width: 1.3 },
      markLine: ML([hLine(203693, '#aaaaaa', '203.693', '#111', 1)]) },
    // STO
    { type: 'line', xAxisIndex: 9, yAxisIndex: 5, data: [], z: 1, silent: true,
      markArea: { silent: true, data: [
        [{ yAxis: 80, itemStyle: { color: '#fde8e8' } }, { yAxis: 102 }],
        [{ yAxis: -4, itemStyle: { color: '#e2fbe2' } }, { yAxis: 20 }] ] },
      markLine: ML([hLine(80, '#e6e6e6', '80', '#ff2a2a'), hLine(50, '#e6e6e6', '50', '#111'), hLine(20, '#e6e6e6', '20', '#1a9a1a')]) },
    { type: 'custom', xAxisIndex: 9, yAxisIndex: 5, data: [[5, 50]], z: 3, silent: true, clip: true,
      renderItem: fillBetween(stoK, stoD, 'rgba(150,240,150,0.5)', 'rgba(255,170,170,0.55)') },
    lineS(9, 5, stoD, '#ff2a2a', 1.3, 5),
    lineS(9, 5, stoK, '#2a9a2a', 1.3, 6)
  ],
  graphic: [
    { type: 'rect', z: -10, shape: { x: 0, y: 0, width: 1816, height: 17 }, style: { fill: '#f6f6f6' } },
    { type: 'rect', z: -10, shape: { x: 0, y: 485, width: 1816, height: 17 }, style: { fill: '#f7f7f7' } },
    txt(4, 9, 'PCBOLSA.COM - ENERSIDE ENERGY Intradia Lineal Ajustado a Dividenos 17/7/2026 - 13/8/2026 , 8:41:19 Renta: 27,88%', '#222', '500 11.7px Roboto'),
    txt(20, 31, 'SMA (100)', '#8ec8f2'),
    txt(77, 31, 'BOLL (20)', '#cfcfcf'),
    txt(131, 31, 'SMA (20)', '#1a8f1a'),
    txt(186, 31, 'MMP (20)', '#1a8f1a'),
    txt(243, 31, 'MaxMin (52)', '#1a8f1a'),
    txt(21, 514, 'MACD (12,26,9)   -0,00', '#111'),
    txt(21, 639, 'ACD   303.818,42', '#111'),
    txt(22, 763, 'STO (14,3,5)   29,77', '#111'),
    // ACD cut labels
    txt(1819, 629, '410.565', '#ff2a2a', '12px Roboto', 50),
    txt(1819, 756, '-0.508', '#1a9a1a', '12px Roboto', 50),
    { type: 'rect', z: 60, shape: { x: 1817, y: 620, width: 53, height: 7 }, style: { fill: '#fff' } },
    { type: 'rect', z: 60, shape: { x: 1817, y: 754, width: 53, height: 10 }, style: { fill: '#fff' } },
    // separators
    { type: 'rect', z: 70, shape: { x: 0, y: 502, width: 1870, height: 3 }, style: { fill: '#e2e2e2' } },
    { type: 'rect', z: 70, shape: { x: 0, y: 626.5, width: 1870, height: 3 }, style: { fill: '#e2e2e2' } },
    { type: 'rect', z: 70, shape: { x: 0, y: 751.5, width: 1870, height: 2.5 }, style: { fill: '#e2e2e2' } },
    // value boxes
    { type: 'rect', z: 80, shape: { x: 1816, y: 655, width: 46, height: 15 }, style: { fill: '#111' } },
    txt(1819, 663, '303.818,', '#fff', '12px Roboto', 81),
    { type: 'rect', z: 80, shape: { x: 1816, y: 835, width: 46, height: 15 }, style: { fill: '#111' } },
    txt(1819, 843, '29,777', '#fff', '12px Roboto', 81),
    // left border + right axis line
    { type: 'line', z: 90, shape: { x1: 4.5, y1: 18, x2: 4.5, y2: 484 }, style: { stroke: '#dddddd', lineWidth: 1 } },
    { type: 'line', z: 90, shape: { x1: 1816.5, y1: 17, x2: 1816.5, y2: 883 }, style: { stroke: '#222', lineWidth: 1 } }
  ]
};
const chart = echarts.init(document.getElementById('c'), null, { renderer: 'canvas' });
chart.setOption(option);
</script>
</body></html>
